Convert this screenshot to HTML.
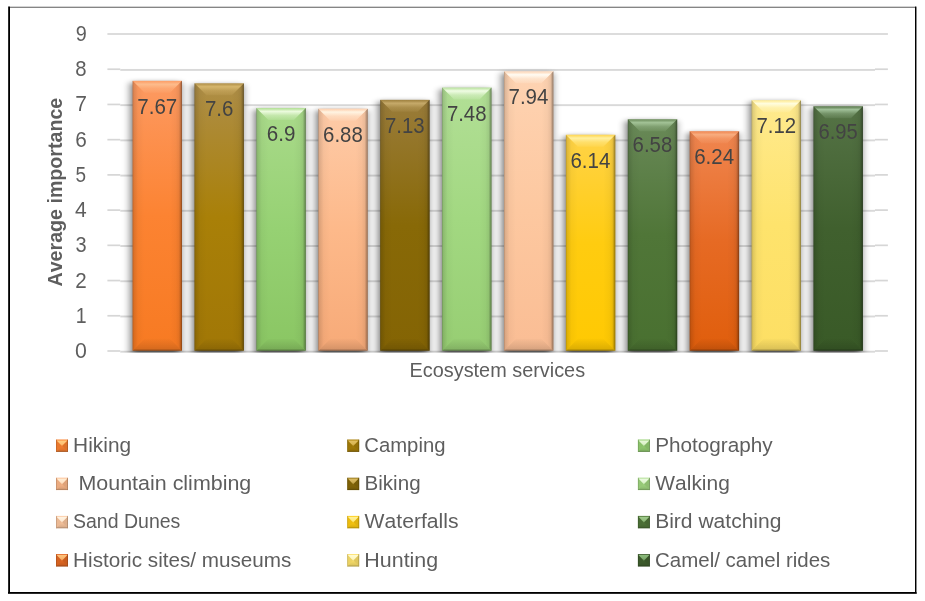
<!DOCTYPE html>
<html lang="en"><head><meta charset="utf-8"><title>Ecosystem services chart</title>
<style>html,body{margin:0;padding:0;background:#fff}body{width:925px;height:601px;overflow:hidden}svg{display:block}text{font-family:"Liberation Sans",sans-serif;font-kerning:none}</style></head><body>
<svg width="925" height="601" viewBox="0 0 925 601">
<defs>
<linearGradient id="g0" x1="0" y1="0" x2="0" y2="1"><stop offset="0" stop-color="#FD9A62"/><stop offset="0.5" stop-color="#FC8332"/><stop offset="1" stop-color="#F77A22"/></linearGradient>
<linearGradient id="g1" x1="0" y1="0" x2="0" y2="1"><stop offset="0" stop-color="#AE8E48"/><stop offset="0.5" stop-color="#A98008"/><stop offset="1" stop-color="#A17706"/></linearGradient>
<linearGradient id="g2" x1="0" y1="0" x2="0" y2="1"><stop offset="0" stop-color="#A9DA8A"/><stop offset="0.5" stop-color="#96D173"/><stop offset="1" stop-color="#8AC663"/></linearGradient>
<linearGradient id="g3" x1="0" y1="0" x2="0" y2="1"><stop offset="0" stop-color="#FECBA8"/><stop offset="0.5" stop-color="#FDB98A"/><stop offset="1" stop-color="#F7AA78"/></linearGradient>
<linearGradient id="g4" x1="0" y1="0" x2="0" y2="1"><stop offset="0" stop-color="#9A7C3A"/><stop offset="0.5" stop-color="#886907"/><stop offset="1" stop-color="#846404"/></linearGradient>
<linearGradient id="g5" x1="0" y1="0" x2="0" y2="1"><stop offset="0" stop-color="#B2DF96"/><stop offset="0.5" stop-color="#A2D881"/><stop offset="1" stop-color="#97CE73"/></linearGradient>
<linearGradient id="g6" x1="0" y1="0" x2="0" y2="1"><stop offset="0" stop-color="#FED3B2"/><stop offset="0.5" stop-color="#FDC8A0"/><stop offset="1" stop-color="#FABD94"/></linearGradient>
<linearGradient id="g7" x1="0" y1="0" x2="0" y2="1"><stop offset="0" stop-color="#FFD348"/><stop offset="0.5" stop-color="#FFCC10"/><stop offset="1" stop-color="#FFC902"/></linearGradient>
<linearGradient id="g8" x1="0" y1="0" x2="0" y2="1"><stop offset="0" stop-color="#698958"/><stop offset="0.5" stop-color="#507638"/><stop offset="1" stop-color="#497030"/></linearGradient>
<linearGradient id="g9" x1="0" y1="0" x2="0" y2="1"><stop offset="0" stop-color="#F08650"/><stop offset="0.5" stop-color="#E66A24"/><stop offset="1" stop-color="#E05E0C"/></linearGradient>
<linearGradient id="g10" x1="0" y1="0" x2="0" y2="1"><stop offset="0" stop-color="#FFEA8E"/><stop offset="0.5" stop-color="#FEE36C"/><stop offset="1" stop-color="#FDDF64"/></linearGradient>
<linearGradient id="g11" x1="0" y1="0" x2="0" y2="1"><stop offset="0" stop-color="#557346"/><stop offset="0.5" stop-color="#40602E"/><stop offset="1" stop-color="#395A27"/></linearGradient>
<linearGradient id="h0" x1="0" y1="0" x2="0" y2="1"><stop offset="0" stop-color="#FDBC8C" stop-opacity="0.15"/><stop offset="0.1" stop-color="#FDBC8C" stop-opacity="0.35"/><stop offset="0.28" stop-color="#FDBC8C" stop-opacity="1"/><stop offset="0.62" stop-color="#FDBC8C" stop-opacity="0.42"/><stop offset="1" stop-color="#FDBC8C" stop-opacity="0.12"/></linearGradient>
<linearGradient id="h1" x1="0" y1="0" x2="0" y2="1"><stop offset="0" stop-color="#D6B66C" stop-opacity="0.15"/><stop offset="0.1" stop-color="#D6B66C" stop-opacity="0.35"/><stop offset="0.28" stop-color="#D6B66C" stop-opacity="1"/><stop offset="0.62" stop-color="#D6B66C" stop-opacity="0.42"/><stop offset="1" stop-color="#D6B66C" stop-opacity="0.12"/></linearGradient>
<linearGradient id="h2" x1="0" y1="0" x2="0" y2="1"><stop offset="0" stop-color="#ECFBDE" stop-opacity="0.15"/><stop offset="0.1" stop-color="#ECFBDE" stop-opacity="0.35"/><stop offset="0.28" stop-color="#ECFBDE" stop-opacity="1"/><stop offset="0.62" stop-color="#ECFBDE" stop-opacity="0.42"/><stop offset="1" stop-color="#ECFBDE" stop-opacity="0.12"/></linearGradient>
<linearGradient id="h3" x1="0" y1="0" x2="0" y2="1"><stop offset="0" stop-color="#FFF4E2" stop-opacity="0.15"/><stop offset="0.1" stop-color="#FFF4E2" stop-opacity="0.35"/><stop offset="0.28" stop-color="#FFF4E2" stop-opacity="1"/><stop offset="0.62" stop-color="#FFF4E2" stop-opacity="0.42"/><stop offset="1" stop-color="#FFF4E2" stop-opacity="0.12"/></linearGradient>
<linearGradient id="h4" x1="0" y1="0" x2="0" y2="1"><stop offset="0" stop-color="#C6AA6A" stop-opacity="0.15"/><stop offset="0.1" stop-color="#C6AA6A" stop-opacity="0.35"/><stop offset="0.28" stop-color="#C6AA6A" stop-opacity="1"/><stop offset="0.62" stop-color="#C6AA6A" stop-opacity="0.42"/><stop offset="1" stop-color="#C6AA6A" stop-opacity="0.12"/></linearGradient>
<linearGradient id="h5" x1="0" y1="0" x2="0" y2="1"><stop offset="0" stop-color="#F0FCE4" stop-opacity="0.15"/><stop offset="0.1" stop-color="#F0FCE4" stop-opacity="0.35"/><stop offset="0.28" stop-color="#F0FCE4" stop-opacity="1"/><stop offset="0.62" stop-color="#F0FCE4" stop-opacity="0.42"/><stop offset="1" stop-color="#F0FCE4" stop-opacity="0.12"/></linearGradient>
<linearGradient id="h6" x1="0" y1="0" x2="0" y2="1"><stop offset="0" stop-color="#FFFBF2" stop-opacity="0.15"/><stop offset="0.1" stop-color="#FFFBF2" stop-opacity="0.35"/><stop offset="0.28" stop-color="#FFFBF2" stop-opacity="1"/><stop offset="0.62" stop-color="#FFFBF2" stop-opacity="0.42"/><stop offset="1" stop-color="#FFFBF2" stop-opacity="0.12"/></linearGradient>
<linearGradient id="h7" x1="0" y1="0" x2="0" y2="1"><stop offset="0" stop-color="#FFF0A0" stop-opacity="0.15"/><stop offset="0.1" stop-color="#FFF0A0" stop-opacity="0.35"/><stop offset="0.28" stop-color="#FFF0A0" stop-opacity="1"/><stop offset="0.62" stop-color="#FFF0A0" stop-opacity="0.42"/><stop offset="1" stop-color="#FFF0A0" stop-opacity="0.12"/></linearGradient>
<linearGradient id="h8" x1="0" y1="0" x2="0" y2="1"><stop offset="0" stop-color="#A2C296" stop-opacity="0.15"/><stop offset="0.1" stop-color="#A2C296" stop-opacity="0.35"/><stop offset="0.28" stop-color="#A2C296" stop-opacity="1"/><stop offset="0.62" stop-color="#A2C296" stop-opacity="0.42"/><stop offset="1" stop-color="#A2C296" stop-opacity="0.12"/></linearGradient>
<linearGradient id="h9" x1="0" y1="0" x2="0" y2="1"><stop offset="0" stop-color="#F8AC7E" stop-opacity="0.15"/><stop offset="0.1" stop-color="#F8AC7E" stop-opacity="0.35"/><stop offset="0.28" stop-color="#F8AC7E" stop-opacity="1"/><stop offset="0.62" stop-color="#F8AC7E" stop-opacity="0.42"/><stop offset="1" stop-color="#F8AC7E" stop-opacity="0.12"/></linearGradient>
<linearGradient id="h10" x1="0" y1="0" x2="0" y2="1"><stop offset="0" stop-color="#FFFDDE" stop-opacity="0.15"/><stop offset="0.1" stop-color="#FFFDDE" stop-opacity="0.35"/><stop offset="0.28" stop-color="#FFFDDE" stop-opacity="1"/><stop offset="0.62" stop-color="#FFFDDE" stop-opacity="0.42"/><stop offset="1" stop-color="#FFFDDE" stop-opacity="0.12"/></linearGradient>
<linearGradient id="h11" x1="0" y1="0" x2="0" y2="1"><stop offset="0" stop-color="#A0C098" stop-opacity="0.15"/><stop offset="0.1" stop-color="#A0C098" stop-opacity="0.35"/><stop offset="0.28" stop-color="#A0C098" stop-opacity="1"/><stop offset="0.62" stop-color="#A0C098" stop-opacity="0.42"/><stop offset="1" stop-color="#A0C098" stop-opacity="0.12"/></linearGradient>
<linearGradient id="bt" x1="0" y1="0" x2="0" y2="1"><stop offset="0" stop-color="#000" stop-opacity="0.01"/><stop offset="0.5" stop-color="#000" stop-opacity="0.08"/><stop offset="0.84" stop-color="#000" stop-opacity="0.13"/><stop offset="0.9" stop-color="#000" stop-opacity="0.24"/><stop offset="1" stop-color="#000" stop-opacity="0.42"/></linearGradient>
<linearGradient id="rt" x1="0" y1="0" x2="1" y2="0"><stop offset="0" stop-color="#000" stop-opacity="0"/><stop offset="0.5" stop-color="#000" stop-opacity="0.03"/><stop offset="0.75" stop-color="#000" stop-opacity="0.08"/><stop offset="0.88" stop-color="#000" stop-opacity="0.24"/><stop offset="1" stop-color="#000" stop-opacity="0.46"/></linearGradient>
<linearGradient id="lt" x1="0" y1="0" x2="1" y2="0"><stop offset="0" stop-color="#000" stop-opacity="0.3"/><stop offset="0.1" stop-color="#000" stop-opacity="0.13"/><stop offset="0.45" stop-color="#000" stop-opacity="0.03"/><stop offset="1" stop-color="#000" stop-opacity="0"/></linearGradient>
<linearGradient id="mh0" x1="0" y1="0" x2="0" y2="1"><stop offset="0" stop-color="#FFD285" stop-opacity="0.95"/><stop offset="0.6" stop-color="#FFD285" stop-opacity="0.8"/><stop offset="1" stop-color="#FFD285" stop-opacity="0.45"/></linearGradient>
<linearGradient id="mh1" x1="0" y1="0" x2="0" y2="1"><stop offset="0" stop-color="#E6C468" stop-opacity="0.95"/><stop offset="0.6" stop-color="#E6C468" stop-opacity="0.8"/><stop offset="1" stop-color="#E6C468" stop-opacity="0.45"/></linearGradient>
<linearGradient id="mh2" x1="0" y1="0" x2="0" y2="1"><stop offset="0" stop-color="#EEFBE0" stop-opacity="0.95"/><stop offset="0.6" stop-color="#EEFBE0" stop-opacity="0.8"/><stop offset="1" stop-color="#EEFBE0" stop-opacity="0.45"/></linearGradient>
<linearGradient id="mh3" x1="0" y1="0" x2="0" y2="1"><stop offset="0" stop-color="#FFF0D8" stop-opacity="0.95"/><stop offset="0.6" stop-color="#FFF0D8" stop-opacity="0.8"/><stop offset="1" stop-color="#FFF0D8" stop-opacity="0.45"/></linearGradient>
<linearGradient id="mh4" x1="0" y1="0" x2="0" y2="1"><stop offset="0" stop-color="#E0C068" stop-opacity="0.95"/><stop offset="0.6" stop-color="#E0C068" stop-opacity="0.8"/><stop offset="1" stop-color="#E0C068" stop-opacity="0.45"/></linearGradient>
<linearGradient id="mh5" x1="0" y1="0" x2="0" y2="1"><stop offset="0" stop-color="#F0FCE6" stop-opacity="0.95"/><stop offset="0.6" stop-color="#F0FCE6" stop-opacity="0.8"/><stop offset="1" stop-color="#F0FCE6" stop-opacity="0.45"/></linearGradient>
<linearGradient id="mh6" x1="0" y1="0" x2="0" y2="1"><stop offset="0" stop-color="#FFF6E6" stop-opacity="0.95"/><stop offset="0.6" stop-color="#FFF6E6" stop-opacity="0.8"/><stop offset="1" stop-color="#FFF6E6" stop-opacity="0.45"/></linearGradient>
<linearGradient id="mh7" x1="0" y1="0" x2="0" y2="1"><stop offset="0" stop-color="#FFF3A0" stop-opacity="0.95"/><stop offset="0.6" stop-color="#FFF3A0" stop-opacity="0.8"/><stop offset="1" stop-color="#FFF3A0" stop-opacity="0.45"/></linearGradient>
<linearGradient id="mh8" x1="0" y1="0" x2="0" y2="1"><stop offset="0" stop-color="#A4D090" stop-opacity="0.95"/><stop offset="0.6" stop-color="#A4D090" stop-opacity="0.8"/><stop offset="1" stop-color="#A4D090" stop-opacity="0.45"/></linearGradient>
<linearGradient id="mh9" x1="0" y1="0" x2="0" y2="1"><stop offset="0" stop-color="#FFC880" stop-opacity="0.95"/><stop offset="0.6" stop-color="#FFC880" stop-opacity="0.8"/><stop offset="1" stop-color="#FFC880" stop-opacity="0.45"/></linearGradient>
<linearGradient id="mh10" x1="0" y1="0" x2="0" y2="1"><stop offset="0" stop-color="#FFFCD8" stop-opacity="0.95"/><stop offset="0.6" stop-color="#FFFCD8" stop-opacity="0.8"/><stop offset="1" stop-color="#FFFCD8" stop-opacity="0.45"/></linearGradient>
<linearGradient id="mh11" x1="0" y1="0" x2="0" y2="1"><stop offset="0" stop-color="#90C080" stop-opacity="0.95"/><stop offset="0.6" stop-color="#90C080" stop-opacity="0.8"/><stop offset="1" stop-color="#90C080" stop-opacity="0.45"/></linearGradient>
<linearGradient id="mb" x1="0" y1="0" x2="0" y2="1"><stop offset="0" stop-color="#000" stop-opacity="0.02"/><stop offset="0.7" stop-color="#000" stop-opacity="0.12"/><stop offset="1" stop-color="#000" stop-opacity="0.34"/></linearGradient>
<filter id="sh" x="-40%" y="-10%" width="180%" height="120%"><feGaussianBlur stdDeviation="4.4 2.6"/></filter>
<clipPath id="cp"><rect x="100" y="20" width="800" height="332.6"/></clipPath>
</defs>
<rect width="925" height="601" fill="#fff"/>
<rect x="8" y="6" width="908" height="1" fill="#d4d4d4"/><rect x="8" y="7" width="908" height="1" fill="#858585"/>
<rect x="8" y="6.6" width="1" height="587.4" fill="#2a2a2a"/><rect x="9" y="6.6" width="1" height="587.4" fill="#000"/>
<rect x="915" y="6.6" width="1" height="587.4" fill="#000"/><rect x="916" y="6.6" width="1" height="587.4" fill="#8a8a8a"/>
<rect x="8" y="592" width="908.5" height="1" fill="#000"/><rect x="8" y="593" width="908.5" height="1" fill="#2a2a2a"/>
<rect x="107.4" y="350.15" width="12.85" height="1.7" fill="#d6d6d6"/>
<rect x="120.25" y="350.75" width="754.75" height="1.9" fill="#d9d9d9"/>
<rect x="875" y="350.15" width="12.90" height="1.7" fill="#d6d6d6"/>
<rect x="107.4" y="314.93" width="12.85" height="1.7" fill="#d6d6d6"/>
<rect x="120.25" y="315.53" width="754.75" height="1.9" fill="#d9d9d9"/>
<rect x="875" y="314.93" width="12.90" height="1.7" fill="#d6d6d6"/>
<rect x="107.4" y="279.71" width="12.85" height="1.7" fill="#d6d6d6"/>
<rect x="120.25" y="280.31" width="754.75" height="1.9" fill="#d9d9d9"/>
<rect x="875" y="279.71" width="12.90" height="1.7" fill="#d6d6d6"/>
<rect x="107.4" y="244.48" width="12.85" height="1.7" fill="#d6d6d6"/>
<rect x="120.25" y="245.08" width="754.75" height="1.9" fill="#d9d9d9"/>
<rect x="875" y="244.48" width="12.90" height="1.7" fill="#d6d6d6"/>
<rect x="107.4" y="209.26" width="12.85" height="1.7" fill="#d6d6d6"/>
<rect x="120.25" y="209.86" width="754.75" height="1.9" fill="#d9d9d9"/>
<rect x="875" y="209.26" width="12.90" height="1.7" fill="#d6d6d6"/>
<rect x="107.4" y="174.04" width="12.85" height="1.7" fill="#d6d6d6"/>
<rect x="120.25" y="174.64" width="754.75" height="1.9" fill="#d9d9d9"/>
<rect x="875" y="174.04" width="12.90" height="1.7" fill="#d6d6d6"/>
<rect x="107.4" y="138.82" width="12.85" height="1.7" fill="#d6d6d6"/>
<rect x="120.25" y="139.42" width="754.75" height="1.9" fill="#d9d9d9"/>
<rect x="875" y="138.82" width="12.90" height="1.7" fill="#d6d6d6"/>
<rect x="107.4" y="103.60" width="12.85" height="1.7" fill="#d6d6d6"/>
<rect x="120.25" y="104.20" width="754.75" height="1.9" fill="#d9d9d9"/>
<rect x="875" y="103.60" width="12.90" height="1.7" fill="#d6d6d6"/>
<rect x="107.4" y="68.37" width="12.85" height="1.7" fill="#d6d6d6"/>
<rect x="120.25" y="68.97" width="754.75" height="1.9" fill="#d9d9d9"/>
<rect x="875" y="68.37" width="12.90" height="1.7" fill="#d6d6d6"/>
<rect x="107.4" y="33.15" width="780.5" height="1.7" fill="#d6d6d6"/>
<g clip-path="url(#cp)"><g filter="url(#sh)" opacity="0.6">
<rect x="131.10" y="82.65" width="49.4" height="277.85" fill="#000"/>
<rect x="193.00" y="85.11" width="49.4" height="275.39" fill="#000"/>
<rect x="254.90" y="109.77" width="49.4" height="250.73" fill="#000"/>
<rect x="316.80" y="110.47" width="49.4" height="250.03" fill="#000"/>
<rect x="378.70" y="101.67" width="49.4" height="258.83" fill="#000"/>
<rect x="440.60" y="89.34" width="49.4" height="271.16" fill="#000"/>
<rect x="502.50" y="73.14" width="49.4" height="287.36" fill="#000"/>
<rect x="564.40" y="136.54" width="49.4" height="223.96" fill="#000"/>
<rect x="626.30" y="121.04" width="49.4" height="239.46" fill="#000"/>
<rect x="688.20" y="133.01" width="49.4" height="227.49" fill="#000"/>
<rect x="750.10" y="102.02" width="49.4" height="258.48" fill="#000"/>
<rect x="812.00" y="108.01" width="49.4" height="252.49" fill="#000"/>
</g></g>
<rect x="132.60" y="80.85" width="49.4" height="269.85" fill="url(#g0)"/>
<polygon points="132.60,80.85 182.00,80.85 170.00,92.85 144.60,92.85" fill="url(#h0)"/>
<polygon points="132.60,350.70 182.00,350.70 170.00,338.70 144.60,338.70" fill="url(#bt)"/>
<polygon points="182.00,80.85 182.00,350.70 170.00,338.70 170.00,92.85" fill="url(#rt)"/>
<polygon points="132.60,80.85 132.60,350.70 144.60,338.70 144.60,92.85" fill="url(#lt)"/>
<rect x="194.50" y="83.31" width="49.4" height="267.39" fill="url(#g1)"/>
<polygon points="194.50,83.31 243.90,83.31 231.90,95.31 206.50,95.31" fill="url(#h1)"/>
<polygon points="194.50,350.70 243.90,350.70 231.90,338.70 206.50,338.70" fill="url(#bt)"/>
<polygon points="243.90,83.31 243.90,350.70 231.90,338.70 231.90,95.31" fill="url(#rt)"/>
<polygon points="194.50,83.31 194.50,350.70 206.50,338.70 206.50,95.31" fill="url(#lt)"/>
<rect x="256.40" y="107.97" width="49.4" height="242.73" fill="url(#g2)"/>
<polygon points="256.40,107.97 305.80,107.97 293.80,119.97 268.40,119.97" fill="url(#h2)"/>
<polygon points="256.40,350.70 305.80,350.70 293.80,338.70 268.40,338.70" fill="url(#bt)"/>
<polygon points="305.80,107.97 305.80,350.70 293.80,338.70 293.80,119.97" fill="url(#rt)"/>
<polygon points="256.40,107.97 256.40,350.70 268.40,338.70 268.40,119.97" fill="url(#lt)"/>
<rect x="318.30" y="108.67" width="49.4" height="242.03" fill="url(#g3)"/>
<polygon points="318.30,108.67 367.70,108.67 355.70,120.67 330.30,120.67" fill="url(#h3)"/>
<polygon points="318.30,350.70 367.70,350.70 355.70,338.70 330.30,338.70" fill="url(#bt)"/>
<polygon points="367.70,108.67 367.70,350.70 355.70,338.70 355.70,120.67" fill="url(#rt)"/>
<polygon points="318.30,108.67 318.30,350.70 330.30,338.70 330.30,120.67" fill="url(#lt)"/>
<rect x="380.20" y="99.87" width="49.4" height="250.83" fill="url(#g4)"/>
<polygon points="380.20,99.87 429.60,99.87 417.60,111.87 392.20,111.87" fill="url(#h4)"/>
<polygon points="380.20,350.70 429.60,350.70 417.60,338.70 392.20,338.70" fill="url(#bt)"/>
<polygon points="429.60,99.87 429.60,350.70 417.60,338.70 417.60,111.87" fill="url(#rt)"/>
<polygon points="380.20,99.87 380.20,350.70 392.20,338.70 392.20,111.87" fill="url(#lt)"/>
<rect x="442.10" y="87.54" width="49.4" height="263.16" fill="url(#g5)"/>
<polygon points="442.10,87.54 491.50,87.54 479.50,99.54 454.10,99.54" fill="url(#h5)"/>
<polygon points="442.10,350.70 491.50,350.70 479.50,338.70 454.10,338.70" fill="url(#bt)"/>
<polygon points="491.50,87.54 491.50,350.70 479.50,338.70 479.50,99.54" fill="url(#rt)"/>
<polygon points="442.10,87.54 442.10,350.70 454.10,338.70 454.10,99.54" fill="url(#lt)"/>
<rect x="504.00" y="71.34" width="49.4" height="279.36" fill="url(#g6)"/>
<polygon points="504.00,71.34 553.40,71.34 541.40,83.34 516.00,83.34" fill="url(#h6)"/>
<polygon points="504.00,350.70 553.40,350.70 541.40,338.70 516.00,338.70" fill="url(#bt)"/>
<polygon points="553.40,71.34 553.40,350.70 541.40,338.70 541.40,83.34" fill="url(#rt)"/>
<polygon points="504.00,71.34 504.00,350.70 516.00,338.70 516.00,83.34" fill="url(#lt)"/>
<rect x="565.90" y="134.74" width="49.4" height="215.96" fill="url(#g7)"/>
<polygon points="565.90,134.74 615.30,134.74 603.30,146.74 577.90,146.74" fill="url(#h7)"/>
<polygon points="565.90,350.70 615.30,350.70 603.30,338.70 577.90,338.70" fill="url(#bt)"/>
<polygon points="615.30,134.74 615.30,350.70 603.30,338.70 603.30,146.74" fill="url(#rt)"/>
<polygon points="565.90,134.74 565.90,350.70 577.90,338.70 577.90,146.74" fill="url(#lt)"/>
<rect x="627.80" y="119.24" width="49.4" height="231.46" fill="url(#g8)"/>
<polygon points="627.80,119.24 677.20,119.24 665.20,131.24 639.80,131.24" fill="url(#h8)"/>
<polygon points="627.80,350.70 677.20,350.70 665.20,338.70 639.80,338.70" fill="url(#bt)"/>
<polygon points="677.20,119.24 677.20,350.70 665.20,338.70 665.20,131.24" fill="url(#rt)"/>
<polygon points="627.80,119.24 627.80,350.70 639.80,338.70 639.80,131.24" fill="url(#lt)"/>
<rect x="689.70" y="131.21" width="49.4" height="219.49" fill="url(#g9)"/>
<polygon points="689.70,131.21 739.10,131.21 727.10,143.21 701.70,143.21" fill="url(#h9)"/>
<polygon points="689.70,350.70 739.10,350.70 727.10,338.70 701.70,338.70" fill="url(#bt)"/>
<polygon points="739.10,131.21 739.10,350.70 727.10,338.70 727.10,143.21" fill="url(#rt)"/>
<polygon points="689.70,131.21 689.70,350.70 701.70,338.70 701.70,143.21" fill="url(#lt)"/>
<rect x="751.60" y="100.22" width="49.4" height="250.48" fill="url(#g10)"/>
<polygon points="751.60,100.22 801.00,100.22 789.00,112.22 763.60,112.22" fill="url(#h10)"/>
<polygon points="751.60,350.70 801.00,350.70 789.00,338.70 763.60,338.70" fill="url(#bt)"/>
<polygon points="801.00,100.22 801.00,350.70 789.00,338.70 789.00,112.22" fill="url(#rt)"/>
<polygon points="751.60,100.22 751.60,350.70 763.60,338.70 763.60,112.22" fill="url(#lt)"/>
<rect x="813.50" y="106.21" width="49.4" height="244.49" fill="url(#g11)"/>
<polygon points="813.50,106.21 862.90,106.21 850.90,118.21 825.50,118.21" fill="url(#h11)"/>
<polygon points="813.50,350.70 862.90,350.70 850.90,338.70 825.50,338.70" fill="url(#bt)"/>
<polygon points="862.90,106.21 862.90,350.70 850.90,338.70 850.90,118.21" fill="url(#rt)"/>
<polygon points="813.50,106.21 813.50,350.70 825.50,338.70 825.50,118.21" fill="url(#lt)"/>
<text x="137.29" y="114" font-size="21.2" fill="#434343" textLength="40.01" lengthAdjust="spacingAndGlyphs">7.67</text>
<text x="204.89" y="116" font-size="21.2" fill="#434343" textLength="28.46" lengthAdjust="spacingAndGlyphs">7.6</text>
<text x="266.76" y="141" font-size="21.2" fill="#434343" textLength="28.61" lengthAdjust="spacingAndGlyphs">6.9</text>
<text x="323.06" y="142" font-size="21.2" fill="#434343" textLength="39.73" lengthAdjust="spacingAndGlyphs">6.88</text>
<text x="384.96" y="133" font-size="21.2" fill="#434343" textLength="39.73" lengthAdjust="spacingAndGlyphs">7.13</text>
<text x="446.88" y="121" font-size="21.2" fill="#434343" textLength="39.68" lengthAdjust="spacingAndGlyphs">7.48</text>
<text x="508.51" y="104" font-size="21.2" fill="#434343" textLength="39.92" lengthAdjust="spacingAndGlyphs">7.94</text>
<text x="570.39" y="168" font-size="21.2" fill="#434343" textLength="39.98" lengthAdjust="spacingAndGlyphs">6.14</text>
<text x="632.56" y="152" font-size="21.2" fill="#434343" textLength="39.73" lengthAdjust="spacingAndGlyphs">6.58</text>
<text x="694.19" y="164" font-size="21.2" fill="#434343" textLength="39.98" lengthAdjust="spacingAndGlyphs">6.24</text>
<text x="756.41" y="133" font-size="21.2" fill="#434343" textLength="39.77" lengthAdjust="spacingAndGlyphs">7.12</text>
<text x="818.48" y="139" font-size="21.2" fill="#434343" textLength="39.26" lengthAdjust="spacingAndGlyphs">6.95</text>
<text x="74.95" y="358" font-size="21.2" fill="#5e5e5e" textLength="11.86" lengthAdjust="spacingAndGlyphs">0</text>
<text x="75.65" y="323" font-size="21.2" fill="#5e5e5e" textLength="10.85" lengthAdjust="spacingAndGlyphs">1</text>
<text x="75.17" y="288" font-size="21.2" fill="#5e5e5e" textLength="11.47" lengthAdjust="spacingAndGlyphs">2</text>
<text x="75.48" y="252" font-size="21.2" fill="#5e5e5e" textLength="11.10" lengthAdjust="spacingAndGlyphs">3</text>
<text x="75.10" y="217" font-size="21.2" fill="#5e5e5e" textLength="11.70" lengthAdjust="spacingAndGlyphs">4</text>
<text x="75.46" y="182" font-size="21.2" fill="#5e5e5e" textLength="10.57" lengthAdjust="spacingAndGlyphs">5</text>
<text x="75.15" y="147" font-size="21.2" fill="#5e5e5e" textLength="11.54" lengthAdjust="spacingAndGlyphs">6</text>
<text x="75.19" y="111" font-size="21.2" fill="#5e5e5e" textLength="11.70" lengthAdjust="spacingAndGlyphs">7</text>
<text x="75.21" y="76" font-size="21.2" fill="#5e5e5e" textLength="11.33" lengthAdjust="spacingAndGlyphs">8</text>
<text x="75.70" y="41" font-size="21.2" fill="#5e5e5e" textLength="11.02" lengthAdjust="spacingAndGlyphs">9</text>
<text x="409.57" y="376.6" font-size="20.5" fill="#5e5e5e" textLength="175.55" lengthAdjust="spacingAndGlyphs">Ecosystem services</text>
<text transform="translate(62.0 286) rotate(-90)" x="-0.49" y="0" font-size="20.5" font-weight="bold" fill="#5e5e5e" textLength="188.76" lengthAdjust="spacingAndGlyphs">Average importance</text>
<rect x="56.00" y="439.50" width="12.0" height="12.4" fill="#FC8332"/>
<polygon points="56.00,439.50 56.00,451.90 62.00,445.70" fill="#000" fill-opacity="0.07"/>
<polygon points="68.00,439.50 68.00,451.90 62.00,445.70" fill="#000" fill-opacity="0.12"/>
<polygon points="56.00,451.90 68.00,451.90 62.00,445.70" fill="url(#mb)"/>
<polygon points="56.60,440.40 67.40,440.40 62.00,446.10" fill="url(#mh0)"/>
<rect x="56.00" y="439.50" width="0.9" height="12.4" fill="#000" fill-opacity="0.14"/>
<rect x="67.10" y="439.50" width="0.9" height="12.4" fill="#000" fill-opacity="0.2"/>
<text x="73.12" y="452" font-size="20.5" fill="#5e5e5e" textLength="57.99" lengthAdjust="spacingAndGlyphs">Hiking</text>
<rect x="347.20" y="439.50" width="12.0" height="12.4" fill="#A98008"/>
<polygon points="347.20,439.50 347.20,451.90 353.20,445.70" fill="#000" fill-opacity="0.07"/>
<polygon points="359.20,439.50 359.20,451.90 353.20,445.70" fill="#000" fill-opacity="0.12"/>
<polygon points="347.20,451.90 359.20,451.90 353.20,445.70" fill="url(#mb)"/>
<polygon points="347.80,440.40 358.60,440.40 353.20,446.10" fill="url(#mh1)"/>
<rect x="347.20" y="439.50" width="0.9" height="12.4" fill="#000" fill-opacity="0.14"/>
<rect x="358.30" y="439.50" width="0.9" height="12.4" fill="#000" fill-opacity="0.2"/>
<text x="364.30" y="452" font-size="20.5" fill="#5e5e5e" textLength="81.18" lengthAdjust="spacingAndGlyphs">Camping</text>
<rect x="637.90" y="439.50" width="12.0" height="12.4" fill="#96D173"/>
<polygon points="637.90,439.50 637.90,451.90 643.90,445.70" fill="#000" fill-opacity="0.07"/>
<polygon points="649.90,439.50 649.90,451.90 643.90,445.70" fill="#000" fill-opacity="0.12"/>
<polygon points="637.90,451.90 649.90,451.90 643.90,445.70" fill="url(#mb)"/>
<polygon points="638.50,440.40 649.30,440.40 643.90,446.10" fill="url(#mh2)"/>
<rect x="637.90" y="439.50" width="0.9" height="12.4" fill="#000" fill-opacity="0.14"/>
<rect x="649.00" y="439.50" width="0.9" height="12.4" fill="#000" fill-opacity="0.2"/>
<text x="655.21" y="452" font-size="20.5" fill="#5e5e5e" textLength="117.46" lengthAdjust="spacingAndGlyphs">Photography</text>
<rect x="56.00" y="477.70" width="12.0" height="12.4" fill="#FDB98A"/>
<polygon points="56.00,477.70 56.00,490.10 62.00,483.90" fill="#000" fill-opacity="0.07"/>
<polygon points="68.00,477.70 68.00,490.10 62.00,483.90" fill="#000" fill-opacity="0.12"/>
<polygon points="56.00,490.10 68.00,490.10 62.00,483.90" fill="url(#mb)"/>
<polygon points="56.60,478.60 67.40,478.60 62.00,484.30" fill="url(#mh3)"/>
<rect x="56.00" y="477.70" width="0.9" height="12.4" fill="#000" fill-opacity="0.14"/>
<rect x="67.10" y="477.70" width="0.9" height="12.4" fill="#000" fill-opacity="0.2"/>
<text x="78.45" y="490" font-size="20.5" fill="#5e5e5e" textLength="172.88" lengthAdjust="spacingAndGlyphs">Mountain climbing</text>
<rect x="347.20" y="477.70" width="12.0" height="12.4" fill="#886907"/>
<polygon points="347.20,477.70 347.20,490.10 353.20,483.90" fill="#000" fill-opacity="0.07"/>
<polygon points="359.20,477.70 359.20,490.10 353.20,483.90" fill="#000" fill-opacity="0.12"/>
<polygon points="347.20,490.10 359.20,490.10 353.20,483.90" fill="url(#mb)"/>
<polygon points="347.80,478.60 358.60,478.60 353.20,484.30" fill="url(#mh4)"/>
<rect x="347.20" y="477.70" width="0.9" height="12.4" fill="#000" fill-opacity="0.14"/>
<rect x="358.30" y="477.70" width="0.9" height="12.4" fill="#000" fill-opacity="0.2"/>
<text x="364.49" y="490" font-size="20.5" fill="#5e5e5e" textLength="56.13" lengthAdjust="spacingAndGlyphs">Biking</text>
<rect x="637.90" y="477.70" width="12.0" height="12.4" fill="#A2D881"/>
<polygon points="637.90,477.70 637.90,490.10 643.90,483.90" fill="#000" fill-opacity="0.07"/>
<polygon points="649.90,477.70 649.90,490.10 643.90,483.90" fill="#000" fill-opacity="0.12"/>
<polygon points="637.90,490.10 649.90,490.10 643.90,483.90" fill="url(#mb)"/>
<polygon points="638.50,478.60 649.30,478.60 643.90,484.30" fill="url(#mh5)"/>
<rect x="637.90" y="477.70" width="0.9" height="12.4" fill="#000" fill-opacity="0.14"/>
<rect x="649.00" y="477.70" width="0.9" height="12.4" fill="#000" fill-opacity="0.2"/>
<text x="655.34" y="490" font-size="20.5" fill="#5e5e5e" textLength="74.51" lengthAdjust="spacingAndGlyphs">Walking</text>
<rect x="56.00" y="515.90" width="12.0" height="12.4" fill="#FDC8A0"/>
<polygon points="56.00,515.90 56.00,528.30 62.00,522.10" fill="#000" fill-opacity="0.07"/>
<polygon points="68.00,515.90 68.00,528.30 62.00,522.10" fill="#000" fill-opacity="0.12"/>
<polygon points="56.00,528.30 68.00,528.30 62.00,522.10" fill="url(#mb)"/>
<polygon points="56.60,516.80 67.40,516.80 62.00,522.50" fill="url(#mh6)"/>
<rect x="56.00" y="515.90" width="0.9" height="12.4" fill="#000" fill-opacity="0.14"/>
<rect x="67.10" y="515.90" width="0.9" height="12.4" fill="#000" fill-opacity="0.2"/>
<text x="73.02" y="528" font-size="20.5" fill="#5e5e5e" textLength="107.32" lengthAdjust="spacingAndGlyphs">Sand Dunes</text>
<rect x="347.20" y="515.90" width="12.0" height="12.4" fill="#FFCC10"/>
<polygon points="347.20,515.90 347.20,528.30 353.20,522.10" fill="#000" fill-opacity="0.07"/>
<polygon points="359.20,515.90 359.20,528.30 353.20,522.10" fill="#000" fill-opacity="0.12"/>
<polygon points="347.20,528.30 359.20,528.30 353.20,522.10" fill="url(#mb)"/>
<polygon points="347.80,516.80 358.60,516.80 353.20,522.50" fill="url(#mh7)"/>
<rect x="347.20" y="515.90" width="0.9" height="12.4" fill="#000" fill-opacity="0.14"/>
<rect x="358.30" y="515.90" width="0.9" height="12.4" fill="#000" fill-opacity="0.2"/>
<text x="364.64" y="528" font-size="20.5" fill="#5e5e5e" textLength="93.90" lengthAdjust="spacingAndGlyphs">Waterfalls</text>
<rect x="637.90" y="515.90" width="12.0" height="12.4" fill="#507638"/>
<polygon points="637.90,515.90 637.90,528.30 643.90,522.10" fill="#000" fill-opacity="0.07"/>
<polygon points="649.90,515.90 649.90,528.30 643.90,522.10" fill="#000" fill-opacity="0.12"/>
<polygon points="637.90,528.30 649.90,528.30 643.90,522.10" fill="url(#mb)"/>
<polygon points="638.50,516.80 649.30,516.80 643.90,522.50" fill="url(#mh8)"/>
<rect x="637.90" y="515.90" width="0.9" height="12.4" fill="#000" fill-opacity="0.14"/>
<rect x="649.00" y="515.90" width="0.9" height="12.4" fill="#000" fill-opacity="0.2"/>
<text x="655.15" y="528" font-size="20.5" fill="#5e5e5e" textLength="126.29" lengthAdjust="spacingAndGlyphs">Bird watching</text>
<rect x="56.00" y="554.10" width="12.0" height="12.4" fill="#E66A24"/>
<polygon points="56.00,554.10 56.00,566.50 62.00,560.30" fill="#000" fill-opacity="0.07"/>
<polygon points="68.00,554.10 68.00,566.50 62.00,560.30" fill="#000" fill-opacity="0.12"/>
<polygon points="56.00,566.50 68.00,566.50 62.00,560.30" fill="url(#mb)"/>
<polygon points="56.60,555.00 67.40,555.00 62.00,560.70" fill="url(#mh9)"/>
<rect x="56.00" y="554.10" width="0.9" height="12.4" fill="#000" fill-opacity="0.14"/>
<rect x="67.10" y="554.10" width="0.9" height="12.4" fill="#000" fill-opacity="0.2"/>
<text x="73.14" y="567" font-size="20.5" fill="#5e5e5e" textLength="218.32" lengthAdjust="spacingAndGlyphs">Historic sites/ museums</text>
<rect x="347.20" y="554.10" width="12.0" height="12.4" fill="#FEE36C"/>
<polygon points="347.20,554.10 347.20,566.50 353.20,560.30" fill="#000" fill-opacity="0.07"/>
<polygon points="359.20,554.10 359.20,566.50 353.20,560.30" fill="#000" fill-opacity="0.12"/>
<polygon points="347.20,566.50 359.20,566.50 353.20,560.30" fill="url(#mb)"/>
<polygon points="347.80,555.00 358.60,555.00 353.20,560.70" fill="url(#mh10)"/>
<rect x="347.20" y="554.10" width="0.9" height="12.4" fill="#000" fill-opacity="0.14"/>
<rect x="358.30" y="554.10" width="0.9" height="12.4" fill="#000" fill-opacity="0.2"/>
<text x="364.38" y="567" font-size="20.5" fill="#5e5e5e" textLength="73.82" lengthAdjust="spacingAndGlyphs">Hunting</text>
<rect x="637.90" y="554.10" width="12.0" height="12.4" fill="#40602E"/>
<polygon points="637.90,554.10 637.90,566.50 643.90,560.30" fill="#000" fill-opacity="0.07"/>
<polygon points="649.90,554.10 649.90,566.50 643.90,560.30" fill="#000" fill-opacity="0.12"/>
<polygon points="637.90,566.50 649.90,566.50 643.90,560.30" fill="url(#mb)"/>
<polygon points="638.50,555.00 649.30,555.00 643.90,560.70" fill="url(#mh11)"/>
<rect x="637.90" y="554.10" width="0.9" height="12.4" fill="#000" fill-opacity="0.14"/>
<rect x="649.00" y="554.10" width="0.9" height="12.4" fill="#000" fill-opacity="0.2"/>
<text x="654.99" y="567" font-size="20.5" fill="#5e5e5e" textLength="175.32" lengthAdjust="spacingAndGlyphs">Camel/ camel rides</text>
</svg></body></html>
